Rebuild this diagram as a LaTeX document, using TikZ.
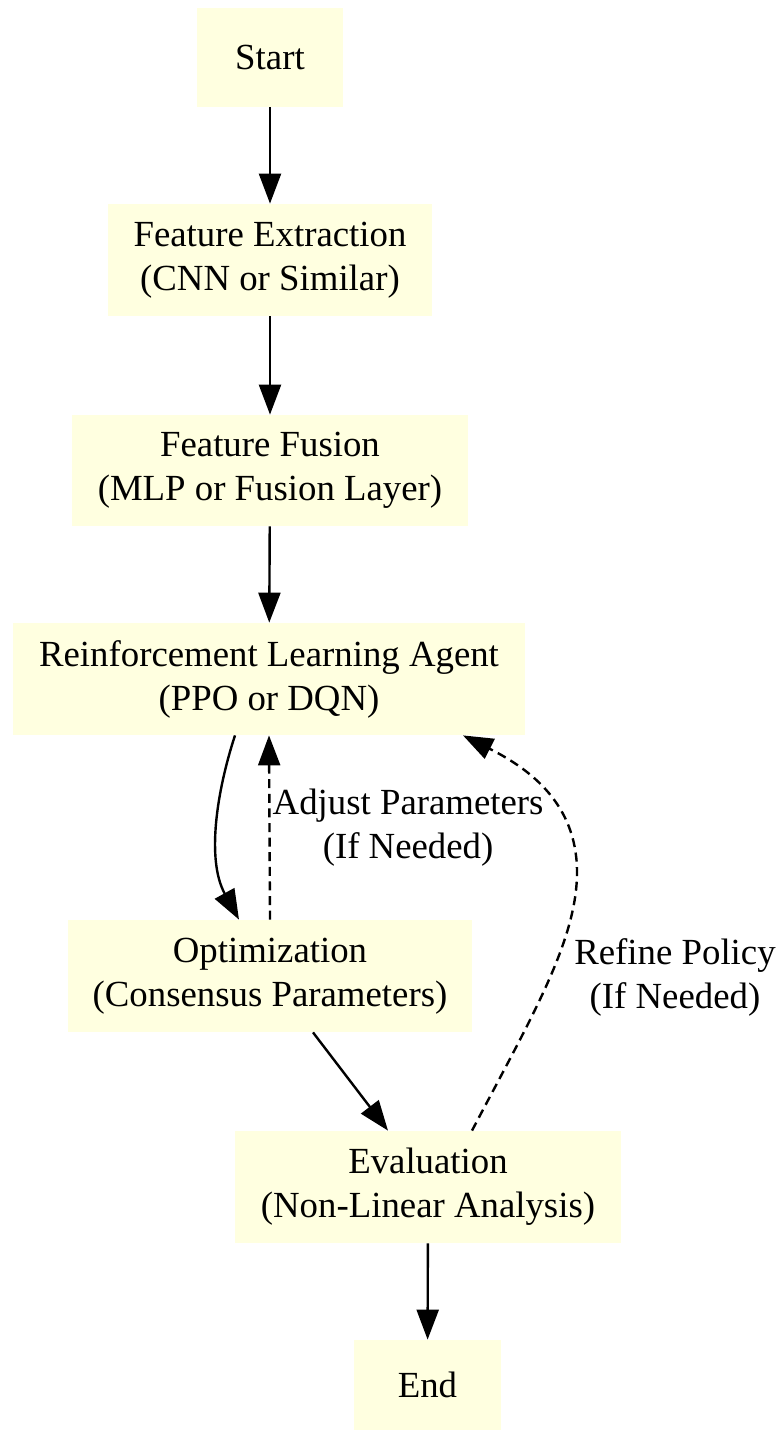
\documentclass[tikz,border=0pt]{standalone}
\usepackage{fontspec}
\setmainfont{Liberation Serif}
\usetikzlibrary{arrows.meta}
\definecolor{boxfill}{RGB}{255,255,224}
\begin{document}
\begin{tikzpicture}[x=0.5pt,y=-0.5pt,
  box/.style={fill=boxfill, inner sep=0pt, align=center, font=\fontsize{18.4}{22}\selectfont},
  lbl/.style={align=center, inner sep=1pt, font=\fontsize{18.4}{22}\selectfont},
  arr/.style={line width=1.2pt, -{Triangle[length=15pt,width=11pt]}},
  dsh/.style={dash pattern=on 4.5pt off 2.8pt}]
\useasboundingbox (0,0) rectangle (779,1431);
\node[box, minimum width=73pt, minimum height=49.5pt] (start) at (270,57.5) {Start};
\node[box, minimum width=162pt, minimum height=56pt] (fe) at (270,260) {Feature Extraction\\(CNN or Similar)};
\node[box, minimum width=198pt, minimum height=55.5pt] (ff) at (270,470.5) {Feature Fusion\\(MLP or Fusion Layer)};
\node[box, minimum width=256pt, minimum height=56pt] (rl) at (269,679) {Reinforcement Learning Agent\\(PPO or DQN)};
\node[box, minimum width=202pt, minimum height=56pt] (opt) at (270,976) {Optimization\\(Consensus Parameters)};
\node[box, minimum width=193pt, minimum height=56pt] (ev) at (428,1187) {Evaluation\\(Non-Linear Analysis)};
\node[box, minimum width=73.5pt, minimum height=45pt] (end) at (427.5,1385) {End};
\coordinate (rp) at (577,870);

\draw[arr] (start) -- (fe);
\draw[arr] (fe) -- (ff);
\draw[arr] (ff) -- (rl);
\draw[arr] ([xshift=-17pt]rl.south) .. controls +(-18,55) and +(-33,-60) .. ([xshift=-15.5pt]opt.north);
\draw[arr,dsh] (opt.north) -- (rl.south)
  node[midway, right, lbl] {Adjust Parameters\\(If Needed)};
\draw[arr] ([xshift=21.5pt]opt.south) -- ([xshift=-20pt]ev.north);
\draw[arr,dsh] ([xshift=22pt]ev.north) .. controls (530,1020) and (578,940) .. (rp)
  .. controls (576,805) and (532,770) .. ([xshift=97pt]rl.south);
\node[lbl] (rlab) at (675,977) {Refine Policy\\(If Needed)};
\draw[arr] (ev) -- (end);
\end{tikzpicture}
\end{document}
